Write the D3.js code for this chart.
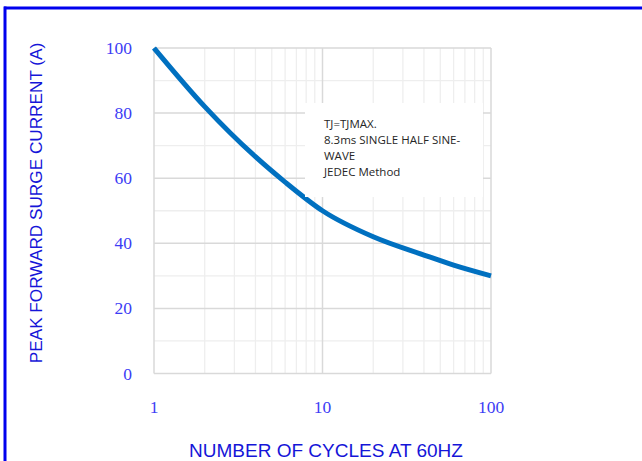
<!DOCTYPE html>
<html><head><meta charset="utf-8">
<script src="https://cdn.jsdelivr.net/npm/d3@7"></script>
<style>html,body{margin:0;padding:0;background:#fff;}svg{display:block;}</style>
</head><body>
<svg id="c" width="642" height="461"></svg>
<script>
const cycles = [1, 2, 4, 6, 10, 20, 40, 60, 100];
const current = [100, 82.0, 66.6, 58.8, 50.0, 42.0, 36.4, 33.3, 30.0];
const xTicks = [1, 10, 100];
const yTicks = [0, 20, 40, 60, 80, 100];
const yMinor = [10, 30, 50, 70, 90];
const notes = ["TJ=TJMAX.", "8.3ms SINGLE HALF SINE-", "WAVE", "JEDEC Method"];
const xTitle = "NUMBER OF CYCLES AT 60HZ";
const yTitle = "PEAK FORWARD SURGE CURRENT (A)";

const svg = d3.select("#c");
const L = 154, R = 491, T = 48, B = 373.5;
const x = d3.scaleLog().domain([1, 100]).range([L, R]);
const y = d3.scaleLinear().domain([0, 100]).range([B, T]);

// outer blue frame (top + left)
svg.append("line").attr("x1", 4).attr("x2", 642).attr("y1", 8).attr("y2", 8).attr("stroke", "#0000ee").attr("stroke-width", 3);
svg.append("line").attr("x1", 5).attr("x2", 5).attr("y1", 6.5).attr("y2", 461).attr("stroke", "#0000ee").attr("stroke-width", 3);

const g = svg.append("g");
// minor vertical grid
const minorX = [];
for (let d = 1; d < 100; d *= 10) for (let k = 2; k <= 9; k++) minorX.push(d * k);
g.selectAll(".vx").data(minorX).enter().append("line")
  .attr("x1", d => x(d)).attr("x2", d => x(d)).attr("y1", T).attr("y2", B)
  .attr("stroke", "#eeeeee").attr("stroke-width", 1.3);
g.selectAll(".hy").data(yMinor).enter().append("line")
  .attr("x1", L).attr("x2", R).attr("y1", d => y(d)).attr("y2", d => y(d))
  .attr("stroke", "#eeeeee").attr("stroke-width", 1.3);
// major grid
g.selectAll(".Mx").data(xTicks).enter().append("line")
  .attr("x1", d => x(d)).attr("x2", d => x(d)).attr("y1", T).attr("y2", B)
  .attr("stroke", "#d9d9d9").attr("stroke-width", 1.5);
g.selectAll(".My").data(yTicks).enter().append("line")
  .attr("x1", L).attr("x2", R).attr("y1", d => y(d)).attr("y2", d => y(d))
  .attr("stroke", "#d9d9d9").attr("stroke-width", 1.5);

// curve
const line = d3.line().x((d, i) => x(cycles[i])).y(d => y(d)).curve(d3.curveMonotoneX);
g.append("path").datum(current).attr("d", line)
  .attr("fill", "none").attr("stroke", "#0070c0").attr("stroke-width", 5).attr("stroke-linecap", "butt");

// annotation box
g.append("rect").attr("x", 305).attr("y", 103).attr("width", 178).attr("height", 94).attr("fill", "#ffffff");
g.selectAll(".note").data(notes).enter().append("text")
  .attr("x", 324).attr("y", (d, i) => 127.5 + i * 16)
  .attr("font-family", "'Open Sans', 'Liberation Sans', sans-serif").attr("font-size", 11.5)
  .attr("fill", "#262626").text(d => d);

// axes labels
const tickFont = "'Liberation Serif', 'DejaVu Serif', serif";
svg.selectAll(".yt").data(yTicks).enter().append("text")
  .attr("x", 132).attr("y", d => y(d) + 6).attr("text-anchor", "end")
  .attr("font-family", tickFont).attr("font-size", 17.5).attr("fill", "#3c3cf5").text(d => d);
svg.selectAll(".xt").data(xTicks).enter().append("text")
  .attr("x", d => x(d)).attr("y", 413).attr("text-anchor", "middle")
  .attr("font-family", tickFont).attr("font-size", 17.5).attr("fill", "#3c3cf5").text(d => d);

svg.append("text").attr("x", 326).attr("y", 457).attr("text-anchor", "middle")
  .attr("font-family", "'Liberation Sans', Arial, sans-serif").attr("font-size", 19)
  .attr("fill", "#1515d8").text(xTitle);
svg.append("text").attr("transform", "translate(42,203) rotate(-90)").attr("text-anchor", "middle")
  .attr("font-family", "'Liberation Sans', Arial, sans-serif").attr("font-size", 17.2)
  .attr("fill", "#1515d8").text(yTitle);
</script>
</body></html>
